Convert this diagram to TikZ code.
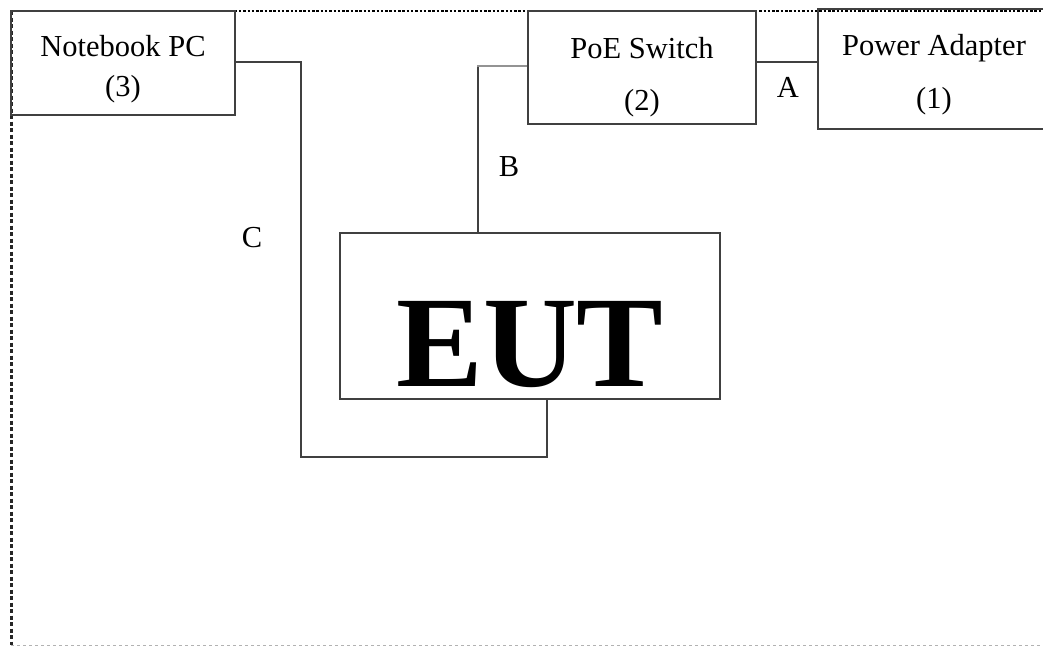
\documentclass[tikz,border=0pt]{standalone}
\usepackage{fontspec}
\setmainfont{Liberation Serif}

\begin{document}
\begin{tikzpicture}
[x=1pt,y=-1pt,-,
  main node/.style={rectangle,draw=black!75,line width=1.3pt,inner sep=0pt,align=center,
    font=\fontsize{30.5}{40}\selectfont},
  cable/.style={draw=black!75,line width=1.3pt},
  tag/.style={anchor=base,font=\fontsize{30.5}{40}\selectfont}]

  \useasboundingbox (0,0) rectangle (1043,646);

  % frame
  \draw[black!85,line width=3pt,dash pattern=on 4pt off 2.5pt] (11,11) -- (11,645);
  \draw[black,line width=2.5pt,dash pattern=on 2.5pt off 1.8pt] (11,11) -- (1043,11);
  \draw[black!30,line width=1pt,dash pattern=on 3pt off 3pt] (11,645) -- (1043,645);

  \node[main node,minimum width=232pt,minimum height=120pt] (1) at (934,69)
    {\rule{0pt}{31.6pt}Power Adapter\\[13pt](1)};
  \node[main node,minimum width=228pt,minimum height=113pt] (2) at (642,67.5)
    {\rule{0pt}{39.6pt}PoE Switch\\[12pt](2)};
  \node[main node,minimum width=224pt,minimum height=104pt] (3) at (123,63)
    {\rule{0pt}{33pt}Notebook PC\\(3)};
  \node[main node,minimum width=380pt,minimum height=166pt,text height=140pt,text depth=0pt,
    font=\fontsize{130}{130}\selectfont\bfseries] (4) at (530,316) {EUT};

  \node[tag] (a) at (788,97) {A};
  \node[tag] (b) at (509,176) {B};
  \node[tag] (c) at (252,247) {C};

  \coordinate (bend) at (301,457);

  \draw[cable] ([yshift=5.5pt]2.east) -- ([yshift=5.5pt]2.east -| 1.west);
  \draw[cable] ([xshift=-52pt]4.north) |- ([yshift=1.5pt]2.west);
  \draw[gray!85,line width=2pt] ([yshift=1.5pt]2.west) -- ++(-50,0);
  \draw[cable] ([yshift=1pt]3.east) -| (bend) -| ([xshift=17pt]4.south);
\end{tikzpicture}
\end{document}
